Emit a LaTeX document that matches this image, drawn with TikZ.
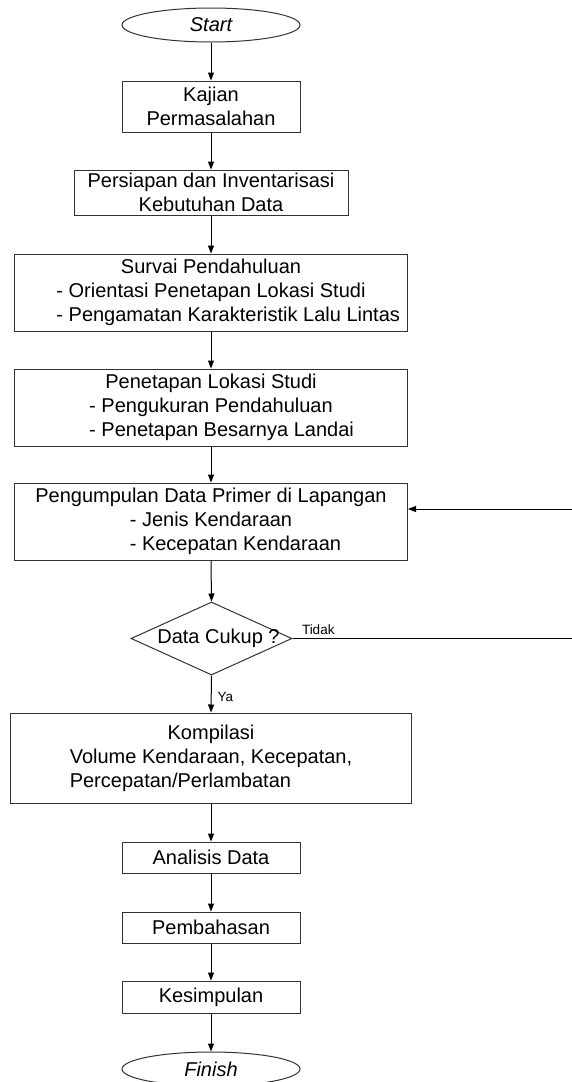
\documentclass[tikz,border=0pt]{standalone}
\usepackage{fontspec}
\setmainfont{Liberation Sans}
\usetikzlibrary{arrows.meta,shapes.geometric}
\newcommand{\twoln}[2]{#1\\\rlap{#2}\hphantom{#1}}
\begin{document}
\begin{tikzpicture}[x=1pt,y=-1pt,
  box/.style={draw=black!80, line width=1pt, rectangle, inner sep=0pt, align=center, font=\fontsize{20}{24}\selectfont},
  term/.style={draw=black!80, line width=1pt, ellipse, inner sep=0pt, minimum width=178pt, minimum height=34pt, font=\fontsize{20}{24}\selectfont\itshape},
  decis/.style={draw=black!80, line width=1pt, diamond, inner sep=0pt, minimum width=161pt, minimum height=73pt, font=\fontsize{20}{24}\selectfont},
  arr/.style={draw=black, line width=1pt, -{Triangle[length=8pt,width=6pt]}},
  lbl/.style={font=\fontsize{13.5}{16}\selectfont, inner sep=0pt}]
\useasboundingbox (0,0) rectangle (572,1082);

\node[term] (start) at (211,25) {Start};
\node[box, minimum width=178pt, minimum height=51pt] (kaj) at (211,106.5) {Kajian\\Permasalahan};
\node[box, minimum width=274pt, minimum height=45pt] (per) at (211,192.5) {Persiapan dan Inventarisasi\\Kebutuhan Data};
\node[box, minimum width=393pt, minimum height=77pt] (sur) at (211,292.5) {Survai Pendahuluan\\\twoln{- Orientasi Penetapan Lokasi Studi}{- Pengamatan Karakteristik Lalu Lintas}};
\node[box, minimum width=393pt, minimum height=77pt] (pet) at (211,407.5) {Penetapan Lokasi Studi\\\twoln{- Pengukuran Pendahuluan}{- Penetapan Besarnya Landai}};
\node[box, minimum width=393pt, minimum height=77pt] (pen) at (211,521.5) {Pengumpulan Data Primer di Lapangan\\\twoln{- Jenis Kendaraan}{- Kecepatan Kendaraan}};
\node[decis] (dec) at (211.5,638.5) {\makebox[0pt]{\hspace*{14pt}Data Cukup ?}};
\node[box, minimum width=401pt, minimum height=90pt] (komp) at (211,758) {Kompilasi\\\twoln{Volume Kendaraan, Kecepatan,}{Percepatan/Perlambatan}};
\node[box, minimum width=178pt, minimum height=31pt] (ana) at (211,857.5) {Analisis Data};
\node[box, minimum width=178pt, minimum height=31pt] (pem) at (211,927.5) {Pembahasan};
\node[box, minimum width=178pt, minimum height=32pt] (kes) at (211,997) {Kesimpulan};
\node[term] (fin) at (211,1069) {Finish};

\draw[arr] (start.south) -- (kaj.north);
\draw[arr] (kaj.south) -- (per.north);
\draw[arr] (per.south) -- (sur.north);
\draw[arr] (sur.south) -- (pet.north);
\draw[arr] (pet.south) -- (pen.north);
\draw[arr] (pen.south) -- (dec.north);
\draw[arr] (dec.south) -- node[lbl, pos=0.58, anchor=west, xshift=6pt] {Ya} (komp.north);
\draw[arr] (komp.south) -- (ana.north);
\draw[arr] (ana.south) -- (pem.north);
\draw[arr] (pem.south) -- (kes.north);
\draw[arr] (kes.south) -- (fin.north);

\coordinate (lr) at (575,638.5);
\coordinate (lt) at (575,509);
\draw[arr] (dec.east) -- node[lbl, pos=0, anchor=south west, xshift=9pt, yshift=3pt] {Tidak} (lr) -- (lt) -- (lt -| pen.east);
\end{tikzpicture}
\end{document}
